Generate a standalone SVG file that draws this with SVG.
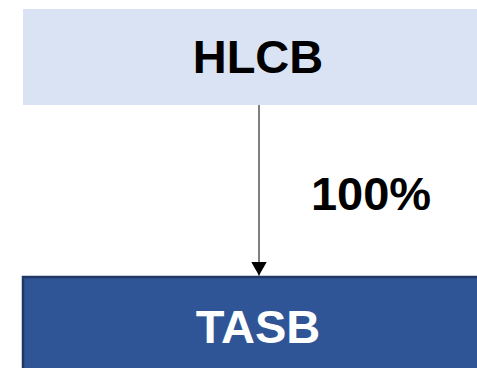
<svg xmlns="http://www.w3.org/2000/svg" width="477" height="368" viewBox="0 0 477 368">
<style>
.t{font-family:"Liberation Sans",Arial,sans-serif;font-weight:bold;font-size:47px;text-anchor:middle}
</style>
<defs>
<marker id="ah" markerWidth="14" markerHeight="16" refX="14" refY="8" orient="auto" markerUnits="userSpaceOnUse" viewBox="0 0 14 16">
<path d="M0,0 L14,8 L0,16 Z" fill="#000"/>
</marker>
</defs>
<rect width="477" height="368" fill="#fff"/>
<g id="hlcb">
<rect x="23" y="9" width="460" height="96" fill="#dae3f3"/>
<text class="t" x="258" y="73" fill="#000">HLCB</text>
</g>
<g id="tasb">
<rect x="23" y="277" width="460" height="100" fill="#2f5597" stroke="#1f3864" stroke-width="2.5"/>
<text class="t" x="258" y="343" fill="#fff">TASB</text>
</g>
<g id="connectors">
<path d="M259,105 V275.5" stroke="#000" stroke-width="1" fill="none" marker-end="url(#ah)"/>
<text class="t" x="371" y="210" fill="#000">100%</text>
</g>
</svg>
